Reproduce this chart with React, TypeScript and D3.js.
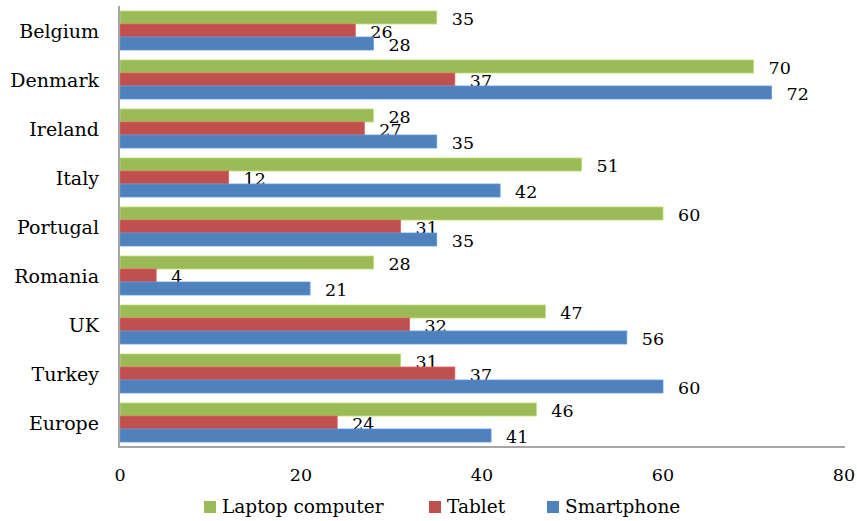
import React from "react";
import * as d3 from "d3";

const categories = ["Belgium", "Denmark", "Ireland", "Italy", "Portugal", "Romania", "UK", "Turkey", "Europe"];
const seriesNames = ["Laptop computer", "Tablet", "Smartphone"];
const laptop = [35, 70, 28, 51, 60, 28, 47, 31, 46];
const tablet = [26, 37, 27, 12, 31, 4, 32, 37, 24];
const smartphone = [28, 72, 35, 42, 35, 21, 56, 60, 41];
const xTicks = [0, 20, 40, 60, 80];
const colors = ["#9BBB59", "#C0504D", "#4F81BD"];

const W = 857;
const H = 521;
const FONT = "'DejaVu Serif', serif";

export default function App() {
  const seriesValues = [laptop, tablet, smartphone];
  const x = d3.scaleLinear().domain([0, 80]).range([120, 844]);
  const y = d3
    .scaleBand<string>()
    .domain(categories)
    .range([6, 447])
    .paddingInner(10 / 49)
    .paddingOuter(5 / 49);
  const inner = d3.scaleBand<string>().domain(seriesNames).range([0, y.bandwidth()]);

  const legendX = [204, 429, 547];

  return (
    <svg
      width={W}
      height={H}
      style={{ position: "absolute", left: 0, top: 0, background: "#fff" }}
      fontFamily={FONT}
    >
      {categories.map((c, ci) => (
        <g key={c}>
          {seriesNames.map((s, si) => {
            const v = seriesValues[si][ci];
            const y0 = (y(c) as number) + (inner(s) as number);
            const h = inner.bandwidth();
            const col = d3.color(colors[si])!;
            return (
              <g key={s}>
                <rect
                  x={x(0)}
                  y={y0}
                  width={x(v) - x(0)}
                  height={h}
                  fill={colors[si]}
                  stroke={col.brighter(0.5).toString()}
                  strokeWidth={0.8}
                />
                <text x={x(v) + 15} y={y0 + h / 2 + 7} fontSize={17.5} fill="#000">
                  {v}
                </text>
              </g>
            );
          })}
          <text
            x={99}
            y={(y(c) as number) + y.bandwidth() / 2 + 7}
            textAnchor="end"
            fontSize={19}
            fill="#000"
          >
            {c}
          </text>
        </g>
      ))}
      <line x1={119} x2={119} y1={6} y2={448} stroke="#a6a6a6" strokeWidth={2} />
      <line x1={118} x2={845} y1={447} y2={447} stroke="#a6a6a6" strokeWidth={2} />
      {xTicks.map((t) => (
        <text key={t} x={x(t)} y={481} textAnchor="middle" fontSize={17.5} fill="#000">
          {t}
        </text>
      ))}
      {seriesNames.map((s, i) => (
        <g key={s}>
          <rect x={legendX[i]} y={501} width={12} height={12} fill={colors[i]} />
          <text x={legendX[i] + 18} y={513} fontSize={18.5} fill="#000">
            {s}
          </text>
        </g>
      ))}
    </svg>
  );
}
